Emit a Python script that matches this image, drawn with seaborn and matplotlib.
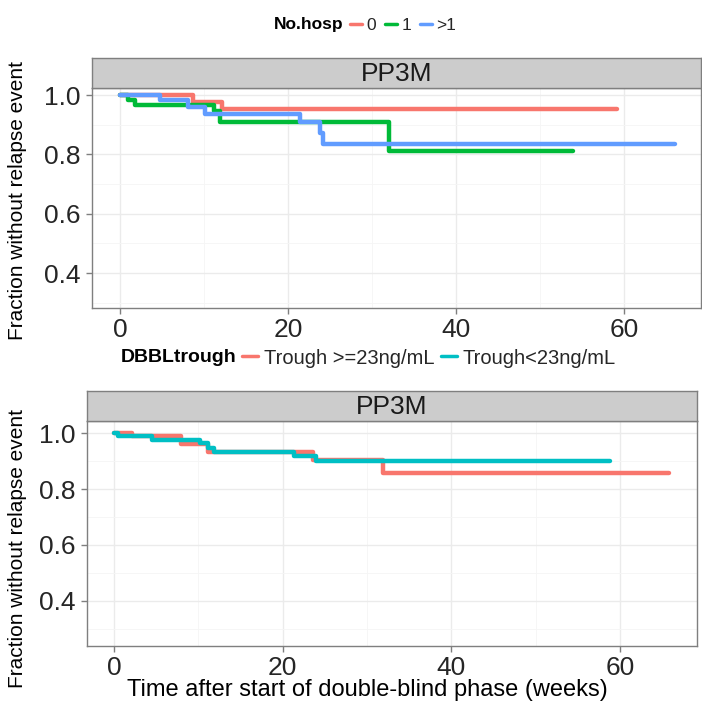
import matplotlib
matplotlib.use("Agg")
import matplotlib.pyplot as plt
from matplotlib.lines import Line2D
import pandas as pd
import seaborn as sns

# Kaplan-Meier step curves: relapse-free fraction by time (weeks)
# Panel 1: by number of prior hospitalisations
hosp_levels = ["0", "1", ">1"]
hosp0_time = [0.0, 8.7, 12.2, 59.2]
hosp0_surv = [1.000, 0.976, 0.953, 0.953]
hosp1_time = [0.0, 1.0, 1.8, 11.2, 11.9, 32.0, 53.9]
hosp1_surv = [1.000, 0.985, 0.966, 0.948, 0.911, 0.811, 0.811]
hospgt1_time = [0.0, 4.8, 8.1, 10.1, 21.4, 23.8, 24.2, 66.1]
hospgt1_surv = [1.000, 0.983, 0.961, 0.938, 0.910, 0.871, 0.837, 0.837]

# Panel 2: by double-blind trough concentration
trough_levels = ["Trough >=23ng/mL", "Trough<23ng/mL"]
trough_hi_time = [0.0, 2.1, 8.0, 11.2, 23.6, 31.9, 65.8]
trough_hi_surv = [1.000, 0.988, 0.962, 0.932, 0.905, 0.857, 0.857]
trough_lo_time = [0.0, 0.5, 4.5, 10.2, 11.2, 11.8, 21.3, 23.9, 58.8]
trough_lo_surv = [1.000, 0.988, 0.976, 0.964, 0.946, 0.932, 0.917, 0.899, 0.899]

facet_label = "PP3M"
x_ticks = [0, 20, 40, 60]
y_ticks = [0.4, 0.6, 0.8, 1.0]

hosp_colors = ["#F8766D", "#00BA38", "#619CFF"]
trough_colors = ["#F8766D", "#00BFC4"]


def long_frame(times, survs, levels, key):
    rows = []
    for t_list, s_list, lev in zip(times, survs, levels):
        for t, s in zip(t_list, s_list):
            rows.append({"time": t, "surv": s, key: lev})
    return pd.DataFrame(rows)


df_hosp = long_frame([hosp0_time, hosp1_time, hospgt1_time],
                     [hosp0_surv, hosp1_surv, hospgt1_surv],
                     hosp_levels, "No.hosp")
df_trough = long_frame([trough_hi_time, trough_lo_time],
                       [trough_hi_surv, trough_lo_surv],
                       trough_levels, "DBBLtrough")

sns.set_theme(style="white")
plt.rcParams["font.family"] = ["Liberation Sans", "DejaVu Sans"]

W, H = 702, 704
fig = plt.figure(figsize=(W / 100, H / 100), dpi=100)
fig.patch.set_facecolor("white")

GREY50 = "#7F7F7F"


def px_axes(left, top, right, bottom):
    return fig.add_axes([left / W, 1 - bottom / H, (right - left) / W, (bottom - top) / H])


def style_panel(ax, xlim, ylim):
    ax.set_xlim(*xlim)
    ax.set_ylim(*ylim)
    ax.set_facecolor("white")
    ax.set_xticks(x_ticks)
    ax.set_xticklabels([str(v) for v in x_ticks])
    ax.set_yticks(y_ticks)
    ax.set_yticklabels([f"{v:.1f}" for v in y_ticks])
    ax.set_xticks([10, 30, 50], minor=True)
    ax.set_yticks([0.3, 0.5, 0.7, 0.9], minor=True)
    ax.grid(True, which="major", color="#EBEBEB", linewidth=1.0)
    ax.grid(True, which="minor", color="#F5F5F5", linewidth=0.6)
    ax.set_axisbelow(True)
    for sp in ax.spines.values():
        sp.set_visible(True)
        sp.set_color(GREY50)
        sp.set_linewidth(1.0)
    ax.tick_params(which="major", bottom=True, left=True, length=4, width=1,
                   color=GREY50, labelsize=19, labelcolor="#262626", pad=3,
                   direction="out")
    ax.tick_params(axis="y", which="major", pad=4)
    ax.tick_params(which="minor", bottom=False, left=False, length=0)
    ax.set_xlabel("")
    ax.set_ylabel("")


def strip(left, top, right, bottom):
    sax = px_axes(left, top, right, bottom)
    sax.set_facecolor("#CCCCCC")
    sax.set_xticks([])
    sax.set_yticks([])
    for sp in sax.spines.values():
        sp.set_visible(True)
        sp.set_color(GREY50)
        sp.set_linewidth(1.0)
    sax.text(0.5, 0.45, facet_label, transform=sax.transAxes, ha="center",
             va="center", fontsize=19, color="#1A1A1A")


# ---- top panel ----
ax1 = px_axes(92, 87.5, 701, 308)
sns.lineplot(data=df_hosp, x="time", y="surv", hue="No.hosp",
             hue_order=hosp_levels, palette=hosp_colors, drawstyle="steps-post",
             estimator=None, linewidth=3.2, legend=False, ax=ax1)
style_panel(ax1, (-3.33, 69.2), (0.282, 1.026))
strip(92, 58, 701, 87.5)

# ---- bottom panel ----
ax2 = px_axes(87, 421, 697, 646)
sns.lineplot(data=df_trough, x="time", y="surv", hue="DBBLtrough",
             hue_order=trough_levels, palette=trough_colors, drawstyle="steps-post",
             estimator=None, linewidth=3.2, legend=False, ax=ax2)
style_panel(ax2, (-3.2, 69.1), (0.239, 1.043))
strip(87, 391, 697, 421)

# ---- axis titles ----
ylab = "Fraction without relapse event"
fig.text(18 / W, 1 - 200 / H, ylab, rotation=90, ha="center", va="center",
         fontsize=15, color="black")
fig.text(18 / W, 1 - 548 / H, ylab, rotation=90, ha="center", va="center",
         fontsize=15, color="black")
fig.text(367 / W, 1 - 690 / H, "Time after start of double-blind phase (weeks)",
         ha="center", va="center", fontsize=17, color="black")

# ---- legends (title inline, keys to its right) ----
fig.text(274 / W, 1 - 25 / H, "No.hosp", ha="left", va="center",
         fontsize=12.5, fontweight="bold", color="black")
h1 = [Line2D([], [], color=c, linewidth=2.5) for c in hosp_colors]
fig.legend(h1, hosp_levels, loc="center left", bbox_to_anchor=(350 / W, 1 - 25 / H),
           ncol=3, frameon=False, fontsize=12.5, handlelength=0.7,
           handletextpad=0.25, columnspacing=0.5, borderaxespad=0, borderpad=0)

fig.text(121 / W, 1 - 358 / H, "DBBLtrough", ha="left", va="center",
         fontsize=14, fontweight="bold", color="black")
h2 = [Line2D([], [], color=c, linewidth=2.5) for c in trough_colors]
fig.legend(h2, trough_levels, loc="center left", bbox_to_anchor=(242 / W, 1 - 358 / H),
           ncol=2, frameon=False, fontsize=14.5, handlelength=0.8,
           handletextpad=0.3, columnspacing=0.3, borderaxespad=0, borderpad=0)

fig.savefig("out.png", dpi=100, facecolor="white")
